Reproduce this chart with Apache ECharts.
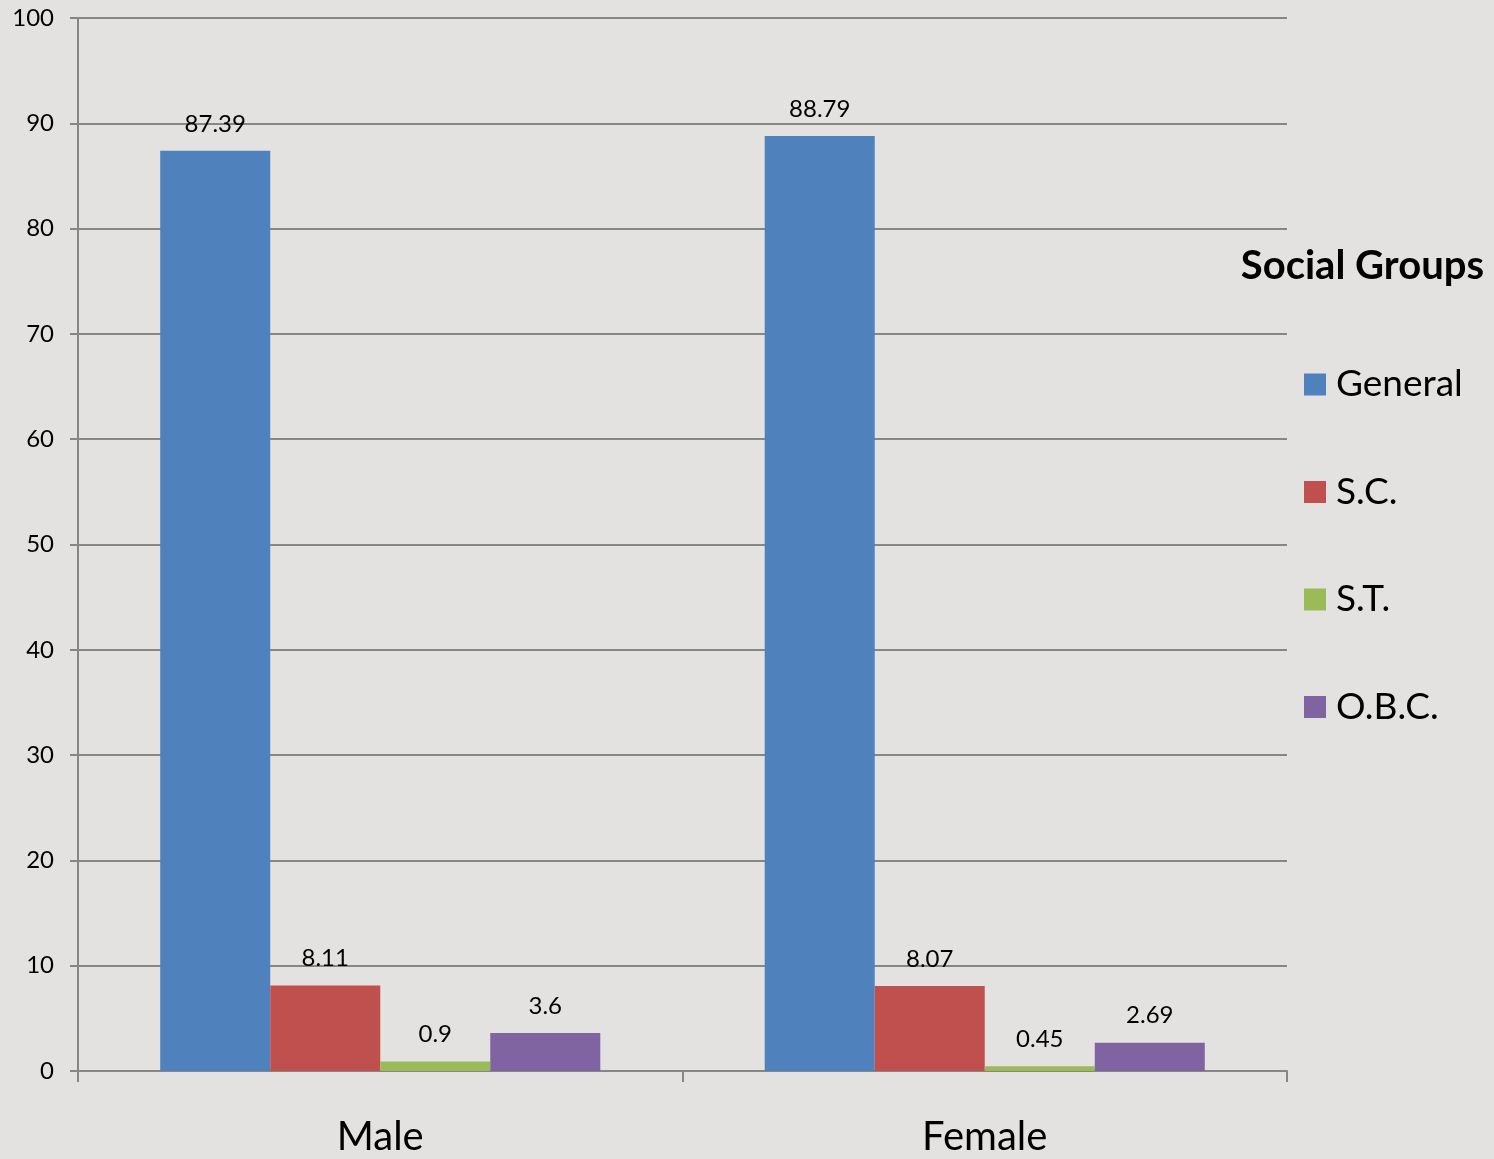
<!DOCTYPE html>
<html><head><meta charset="utf-8">
<script src="https://cdn.jsdelivr.net/npm/echarts@6/dist/echarts.min.js"></script>
<style>html,body{margin:0;padding:0;background:#e3e2e0;}#c{width:1494px;height:1159px;}</style>
</head><body><div id="c"></div>
<script>
const categories = ['Male', 'Female'];
const seriesNames = ['General', 'S.C.', 'S.T.', 'O.B.C.'];
const general = [87.39, 88.79];
const sc = [8.11, 8.07];
const st = [0.9, 0.45];
const obc = [3.6, 2.69];
const colors = ['#4F81BD', '#C0504D', '#9BBB59', '#8064A2'];
const values = [general, sc, st, obc];
const FONT = 'Lato';
const chart = echarts.init(document.getElementById('c'));
chart.setOption({
  backgroundColor: '#e3e2e0',
  animation: false,
  textStyle: {fontFamily: FONT},
  title: {
    text: 'Social Groups', right: 5, top: 241,
    textStyle: {fontFamily: FONT, fontWeight: 'bold', fontSize: 40, color: '#000'}
  },
  legend: {
    orient: 'vertical', left: 1299, top: 361,
    itemWidth: 22, itemHeight: 22, itemGap: 70.5,
    icon: 'rect',
    textStyle: {fontFamily: FONT, fontSize: 37, color: '#000', padding: [0, 0, 0, 5]},
    data: seriesNames
  },
  grid: {left: 78, right: 207, top: 18, bottom: 88},
  xAxis: {
    type: 'category', data: categories,
    axisLine: {lineStyle: {color: '#868686', width: 2}},
    axisTick: {show: true, length: 11, lineStyle: {color: '#868686', width: 2}},
    axisLabel: {fontFamily: FONT, fontSize: 40, color: '#000', margin: 46}
  },
  yAxis: {
    type: 'value', min: 0, max: 100, interval: 10,
    axisLine: {show: true, lineStyle: {color: '#868686', width: 2}},
    axisTick: {show: true, length: 8, lineStyle: {color: '#868686', width: 2}},
    axisLabel: {fontFamily: FONT, fontSize: 24, color: '#000', margin: 24},
    splitLine: {lineStyle: {color: '#868686', width: 2}}
  },
  series: seriesNames.map((n, i) => ({
    name: n, type: 'bar', data: values[i],
    barGap: '0%', barCategoryGap: '27.2%',
    itemStyle: {color: colors[i]},
    label: {show: true, position: 'top', distance: 15, fontFamily: FONT, fontSize: 24, color: '#000'}
  }))
});
</script></body></html>
